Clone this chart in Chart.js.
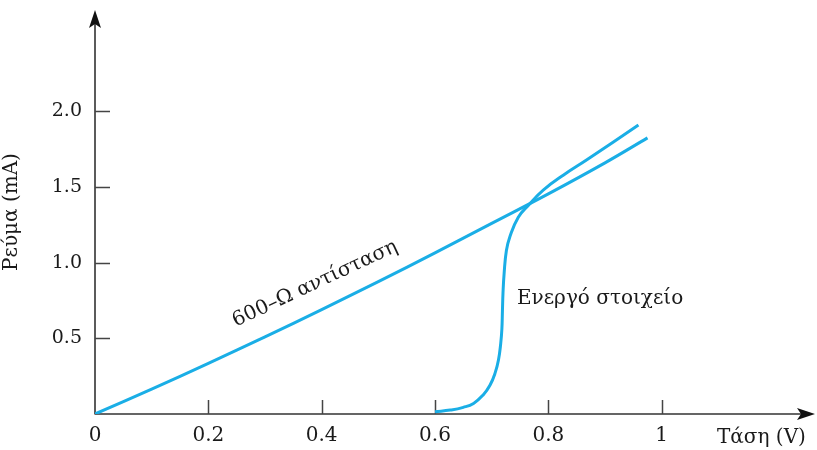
<!DOCTYPE html>
<html>
<head>
<meta charset="utf-8">
<script src="https://cdn.jsdelivr.net/npm/chart.js@4.4.0/dist/chart.umd.min.js"></script>
<style>
  html, body { margin: 0; padding: 0; background: #ffffff; }
  #wrap { width: 817px; height: 450px; }
</style>
</head>
<body>
<div id="wrap"><canvas id="c" width="817" height="450"></canvas></div>
<script>
// Current–voltage curve of a 600-Ω resistor
const resistorV = [0, 0.1, 0.2, 0.3, 0.4, 0.5, 0.6, 0.7, 0.8, 0.9, 0.975];
const resistorI = [0, 0.165, 0.335, 0.51, 0.69, 0.875, 1.065, 1.26, 1.455, 1.66, 1.825];

// Current–voltage curve of the active element
const activeV = [0.600, 0.627, 0.650, 0.668, 0.685, 0.697, 0.706, 0.712, 0.716, 0.718, 0.719, 0.720, 0.722, 0.726, 0.732, 0.747, 0.765, 0.791, 0.827, 0.868, 0.959];
const activeI = [0.015, 0.026, 0.044, 0.070, 0.126, 0.190, 0.270, 0.357, 0.467, 0.560, 0.680, 0.800, 0.930, 1.080, 1.170, 1.300, 1.380, 1.480, 1.580, 1.680, 1.910];

// Axis ticks
const xTickValues = [0, 0.2, 0.4, 0.6, 0.8, 1];
const xTickLabels = ['0', '0.2', '0.4', '0.6', '0.8', '1'];
const yTickValues = [0.5, 1.0, 1.5, 2.0];
const yTickLabels = ['0.5', '1.0', '1.5', '2.0'];

const xMax = 1.2706;
const yMax = 2.67;

const LINE = '#1aaee6';
const INK = '#1a1a1a';
const SERIF = '"DejaVu Serif", "Liberation Serif", serif';

const toPoints = (xs, ys) => xs.map((x, i) => ({ x: x, y: ys[i] }));

// Axis lines with arrowheads, inward tick marks and free text labels
const decorations = {
  id: 'decorations',
  beforeDatasetsDraw(chart) {
    const { ctx, scales: { x, y } } = chart;
    const x0 = x.getPixelForValue(0), y0 = y.getPixelForValue(0);
    const xEnd = x.getPixelForValue(xMax), yEnd = y.getPixelForValue(yMax);
    ctx.save();
    ctx.strokeStyle = '#333333';
    ctx.lineWidth = 1.6;
    ctx.beginPath();
    ctx.moveTo(x0, y0 + 0.5);
    ctx.lineTo(x0, yEnd + 8);
    ctx.moveTo(x0, y0);
    ctx.lineTo(xEnd - 8, y0);
    ctx.stroke();

    // arrowheads
    ctx.fillStyle = '#111111';
    ctx.beginPath();
    ctx.moveTo(x0, yEnd);
    ctx.lineTo(x0 + 6, yEnd + 18);
    ctx.lineTo(x0, yEnd + 14);
    ctx.lineTo(x0 - 6, yEnd + 18);
    ctx.closePath();
    ctx.fill();
    ctx.beginPath();
    ctx.moveTo(xEnd, y0);
    ctx.lineTo(xEnd - 18, y0 - 6);
    ctx.lineTo(xEnd - 14, y0);
    ctx.lineTo(xEnd - 18, y0 + 6);
    ctx.closePath();
    ctx.fill();

    // tick marks pointing into the plot
    ctx.strokeStyle = '#444444';
    ctx.lineWidth = 1.5;
    ctx.beginPath();
    xTickValues.forEach(v => {
      if (v === 0) return;
      const px = Math.round(x.getPixelForValue(v)) + 0.5;
      ctx.moveTo(px, y0);
      ctx.lineTo(px, y0 - 14);
    });
    yTickValues.forEach(v => {
      const py = Math.round(y.getPixelForValue(v)) + 0.5;
      ctx.moveTo(x0, py);
      ctx.lineTo(x0 + 15, py);
    });
    ctx.stroke();
    ctx.restore();
  },
  afterDraw(chart) {
    const { ctx } = chart;
    ctx.save();
    ctx.fillStyle = INK;
    ctx.font = '20px ' + SERIF;
    ctx.textBaseline = 'middle';

    // horizontal axis title
    ctx.textAlign = 'left';
    ctx.fillText('Τάση (V)', 717, 438);

    // curve labels
    ctx.fillText('Ενεργό στοιχείο', 517, 299);

    ctx.translate(315, 284);
    ctx.rotate(-25 * Math.PI / 180);
    ctx.textAlign = 'center';
    ctx.fillText('600–Ω αντίσταση', 0, 0);
    ctx.restore();
  }
};

new Chart(document.getElementById('c'), {
  type: 'line',
  data: {
    datasets: [
      {
        label: '600-Ω αντίσταση',
        data: toPoints(resistorV, resistorI),
        borderColor: LINE,
        borderWidth: 3,
        pointRadius: 0,
        tension: 0.4,
        fill: false
      },
      {
        label: 'Ενεργό στοιχείο',
        data: toPoints(activeV, activeI),
        borderColor: LINE,
        borderWidth: 3,
        pointRadius: 0,
        tension: 0.45,
        fill: false
      }
    ]
  },
  options: {
    responsive: false,
    animation: false,
    layout: { padding: { top: 10, right: 2, left: 0, bottom: 0 } },
    plugins: { legend: { display: false }, tooltip: { enabled: false } },
    scales: {
      x: {
        type: 'linear',
        min: 0,
        max: xMax,
        grid: { display: false, drawTicks: false },
        border: { display: false },
        afterBuildTicks(scale) { scale.ticks = xTickValues.map(v => ({ value: v })); },
        afterFit(scale) {
          scale.height = 36;
          scale.paddingLeft = 0;
          scale.paddingRight = 0;
        },
        ticks: {
          autoSkip: false,
          maxRotation: 0,
          padding: 10,
          color: INK,
          font: { family: SERIF, size: 20 },
          callback: (v) => xTickLabels[xTickValues.indexOf(v)]
        }
      },
      y: {
        type: 'linear',
        min: 0,
        max: yMax,
        grid: { display: false, drawTicks: false },
        border: { display: false },
        afterBuildTicks(scale) { scale.ticks = yTickValues.map(v => ({ value: v })); },
        afterFit(scale) {
          scale.width = 95;
          scale.paddingTop = 0;
          scale.paddingBottom = 0;
        },
        title: {
          display: true,
          text: 'Ρεύμα (mA)',
          color: INK,
          font: { family: SERIF, size: 20 },
          padding: { top: 0, bottom: 0 }
        },
        ticks: {
          autoSkip: false,
          padding: 13,
          color: INK,
          font: { family: SERIF, size: 19 },
          callback: (v) => yTickLabels[yTickValues.indexOf(v)]
        }
      }
    }
  },
  plugins: [decorations]
});
</script>
</body>
</html>
